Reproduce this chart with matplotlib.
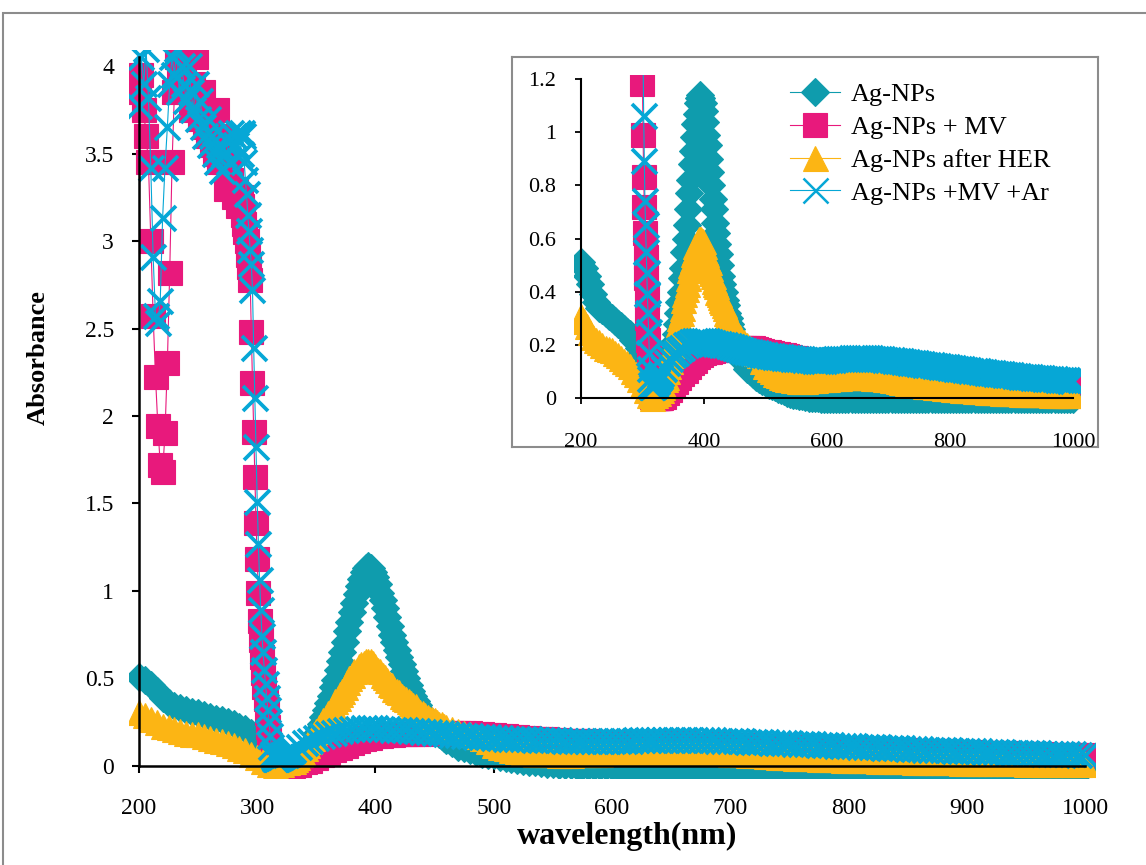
import numpy as np
import matplotlib.pyplot as plt
from matplotlib.ticker import FormatStrFormatter

plt.rcParams['font.family'] = 'Liberation Serif'

# wavelength grids (nm)
wl = np.concatenate([np.arange(200, 330, 5), np.arange(330, 460, 2), np.arange(460, 1001, 5)])
wl_mv = np.concatenate([np.arange(200, 286, 2), np.arange(286, 330), np.arange(330, 1001, 5)])

# Ag-NPs
ag_nps = [
    # 200-325, every 5 nm
    0.51, 0.49, 0.46, 0.43, 0.39, 0.36, 0.34, 0.33, 0.32, 0.31,
    0.30, 0.29, 0.28, 0.27, 0.26, 0.25, 0.24, 0.22, 0.21, 0.19,
    0.17, 0.13, 0.09, 0.06, 0.04, 0.03,
    # 330-458, every 2 nm
    0.02, 0.02, 0.03, 0.04, 0.05, 0.06, 0.08, 0.10, 0.12, 0.15,
    0.18, 0.21, 0.24, 0.28, 0.32, 0.36, 0.40, 0.45, 0.49, 0.55,
    0.60, 0.65, 0.71, 0.77, 0.82, 0.88, 0.93, 0.98, 1.03, 1.07,
    1.11, 1.13, 1.14, 1.13, 1.11, 1.08, 1.04, 0.99, 0.95, 0.90,
    0.85, 0.80, 0.75, 0.71, 0.66, 0.62, 0.58, 0.54, 0.50, 0.46,
    0.43, 0.40, 0.37, 0.35, 0.32, 0.30, 0.28, 0.26, 0.24, 0.22,
    0.21, 0.20, 0.18, 0.17, 0.16,
    # 460-1000, every 5 nm
    0.15, 0.13, 0.11, 0.10, 0.09, 0.08, 0.07, 0.065,
    0.06, 0.05, 0.045, 0.04, 0.035, 0.03, 0.025, 0.02, 0.015, 0.012,
    0.01, 0.008, 0.006, 0.004, 0.002, 0.0, 0.0, -0.001, -0.002, -0.002,
    -0.002, -0.003, -0.003, -0.003, -0.003, -0.003, -0.003, -0.003, -0.003, -0.003,
    -0.003, -0.003, -0.003, -0.003, -0.003, -0.003, -0.003, -0.003, -0.003, -0.003,
    -0.003, -0.003, -0.003, -0.003, -0.003, -0.003, -0.003, -0.003, -0.003, -0.003,
    -0.003, -0.003, -0.003, -0.003, -0.003, -0.003, -0.003, -0.003, -0.003, -0.003,
    -0.003, -0.003, -0.003, -0.003, -0.003, -0.003, -0.003, -0.003, -0.003, -0.003,
    -0.003, -0.003, -0.003, -0.003, -0.003, -0.003, -0.003, -0.003, -0.003, -0.003,
    -0.003, -0.003, -0.003, -0.003, -0.003, -0.003, -0.003, -0.003, -0.003, -0.003,
    -0.003, -0.003, -0.003, -0.003, -0.003, -0.003, -0.003, -0.003, -0.003, -0.003,
    -0.003,
]

# Ag-NPs after HER
ag_her = [
    # 200-325, every 5 nm
    0.31, 0.29, 0.27, 0.25, 0.23, 0.22, 0.21, 0.20, 0.19, 0.185,
    0.18, 0.17, 0.16, 0.15, 0.14, 0.13, 0.12, 0.10, 0.09, 0.07,
    0.05, 0.03, 0.01, 0.0, 0.01, 0.02,
    # 330-458, every 2 nm
    0.03, 0.04, 0.05, 0.07, 0.08, 0.10, 0.12, 0.14, 0.16, 0.18,
    0.20, 0.22, 0.24, 0.26, 0.28, 0.30, 0.32, 0.34, 0.37, 0.39,
    0.41, 0.43, 0.45, 0.48, 0.50, 0.52, 0.54, 0.55, 0.57, 0.58,
    0.59, 0.60, 0.60, 0.60, 0.59, 0.57, 0.55, 0.54, 0.52, 0.51,
    0.49, 0.47, 0.46, 0.44, 0.43, 0.42, 0.40, 0.39, 0.38, 0.37,
    0.36, 0.35, 0.34, 0.32, 0.31, 0.30, 0.29, 0.28, 0.27, 0.27,
    0.26, 0.25, 0.24, 0.24, 0.23,
    # 460-1000, every 5 nm
    0.22, 0.21, 0.20, 0.19, 0.18, 0.17, 0.16, 0.14,
    0.12, 0.11, 0.10, 0.09, 0.085, 0.08, 0.075, 0.07, 0.07, 0.068,
    0.066, 0.065, 0.065, 0.065, 0.066, 0.067, 0.068, 0.07, 0.07, 0.072,
    0.073, 0.074, 0.075, 0.076, 0.077, 0.078, 0.078, 0.079, 0.079, 0.08,
    0.08, 0.08, 0.079, 0.079, 0.078, 0.077, 0.076, 0.075, 0.074, 0.072,
    0.07, 0.068, 0.066, 0.064, 0.062, 0.06, 0.058, 0.056, 0.054, 0.052,
    0.05, 0.048, 0.046, 0.045, 0.044, 0.042, 0.041, 0.04, 0.038, 0.037,
    0.036, 0.035, 0.034, 0.033, 0.032, 0.031, 0.03, 0.029, 0.028, 0.027,
    0.026, 0.025, 0.024, 0.023, 0.022, 0.021, 0.021, 0.02, 0.02, 0.019,
    0.019, 0.018, 0.018, 0.017, 0.017, 0.016, 0.016, 0.015, 0.015, 0.015,
    0.014, 0.014, 0.014, 0.013, 0.013, 0.013, 0.012, 0.012, 0.012, 0.012,
    0.012,
]

# Ag-NPs + MV
ag_mv = [
    # 200-284, every 2 nm
    3.85, 3.95, 3.75, 3.6, 3.45, 3.0, 2.57, 2.22, 1.94, 1.72,
    1.68, 1.9, 2.3, 2.82, 3.45, 3.85, 4.05, 3.95, 4.1, 3.9,
    4.05, 3.85, 3.75, 3.9, 4.05, 3.8, 3.7, 3.85, 3.65, 3.6,
    3.7, 3.55, 3.5, 3.75, 3.45, 3.6, 3.45, 3.3, 3.4, 3.35,
    3.25, 3.3, 3.2,
    # 286-329, every 1 nm
    3.25, 3.2, 3.15, 3.1, 3.05, 3.0, 2.92, 2.85, 2.78, 2.48,
    2.19, 1.91, 1.65, 1.39, 1.18, 0.99, 0.83, 0.72, 0.62, 0.53,
    0.45, 0.38, 0.30, 0.22, 0.15, 0.08, 0.05, 0.03, 0.02, 0.01,
    0.005, 0.0, 0.0, 0.0, 0.0, 0.0, 0.0, 0.0, 0.0, 0.0,
    0.0, 0.0, 0.0, 0.0,
    # 330-1000, every 5 nm
    0.0, 0.005, 0.02, 0.03, 0.045, 0.06, 0.075, 0.09, 0.1, 0.115,
    0.13, 0.14, 0.155, 0.162, 0.17, 0.172, 0.175, 0.177, 0.18, 0.18,
    0.182, 0.183, 0.185, 0.186, 0.187, 0.188, 0.189, 0.19, 0.19, 0.19,
    0.188, 0.185, 0.182, 0.178, 0.175, 0.172, 0.17, 0.167, 0.165, 0.162,
    0.16, 0.157, 0.155, 0.152, 0.15, 0.148, 0.145, 0.143, 0.142, 0.14,
    0.14, 0.139, 0.138, 0.137, 0.136, 0.135, 0.134, 0.133, 0.132, 0.131,
    0.13, 0.13, 0.13, 0.13, 0.13, 0.129, 0.129, 0.128, 0.128, 0.127,
    0.126, 0.125, 0.124, 0.123, 0.122, 0.121, 0.12, 0.119, 0.118, 0.117,
    0.116, 0.114, 0.113, 0.112, 0.11, 0.109, 0.108, 0.106, 0.105, 0.104,
    0.103, 0.102, 0.101, 0.1, 0.099, 0.098, 0.097, 0.096, 0.095, 0.094,
    0.093, 0.092, 0.091, 0.09, 0.089, 0.088, 0.087, 0.086, 0.085, 0.084,
    0.083, 0.082, 0.081, 0.08, 0.079, 0.078, 0.077, 0.076, 0.075, 0.074,
    0.073, 0.072, 0.071, 0.07, 0.069, 0.068, 0.067, 0.066, 0.065, 0.064,
    0.063, 0.062, 0.061, 0.06, 0.06,
]

# Ag-NPs +MV +Ar
ag_mv_ar = [
    # 200-284, every 2 nm
    3.77, 4.05, 3.9, 4.1, 3.82, 3.42, 2.91, 2.57, 2.53, 2.66,
    3.13, 3.42, 3.65, 3.9, 4.05, 3.95, 4.1, 3.85, 4.0, 3.9,
    3.8, 4.0, 3.85, 3.75, 3.9, 3.7, 3.8, 3.65, 3.6, 3.7,
    3.55, 3.6, 3.5, 3.45, 3.55, 3.4, 3.5, 3.58, 3.45, 3.62,
    3.6, 3.55, 3.62,
    # 286-329, every 1 nm
    3.5, 3.62, 3.6, 3.45, 3.35, 3.27, 3.15, 3.06, 2.95, 2.87,
    2.72, 2.39, 2.1, 1.82, 1.51, 1.27, 1.06, 0.89, 0.74, 0.65,
    0.55, 0.47, 0.39, 0.32, 0.25, 0.17, 0.11, 0.07, 0.05, 0.04,
    0.04, 0.04, 0.045, 0.05, 0.05, 0.055, 0.06, 0.06, 0.065, 0.07,
    0.07, 0.075, 0.08, 0.085,
    # 330-1000, every 5 nm
    0.09, 0.11, 0.13, 0.145, 0.16, 0.17, 0.18, 0.19, 0.2, 0.205,
    0.21, 0.213, 0.215, 0.215, 0.215, 0.213, 0.21, 0.208, 0.205, 0.203,
    0.2, 0.198, 0.195, 0.192, 0.19, 0.186, 0.182, 0.178, 0.175, 0.172,
    0.17, 0.168, 0.166, 0.163, 0.16, 0.158, 0.157, 0.156, 0.155, 0.153,
    0.152, 0.151, 0.15, 0.148, 0.147, 0.146, 0.145, 0.144, 0.143, 0.142,
    0.141, 0.141, 0.141, 0.141, 0.142, 0.143, 0.144, 0.145, 0.146, 0.147,
    0.148, 0.148, 0.149, 0.149, 0.15, 0.15, 0.15, 0.149, 0.149, 0.148,
    0.147, 0.146, 0.145, 0.144, 0.143, 0.142, 0.14, 0.139, 0.138, 0.136,
    0.135, 0.133, 0.132, 0.13, 0.129, 0.127, 0.126, 0.124, 0.123, 0.121,
    0.12, 0.118, 0.117, 0.115, 0.114, 0.112, 0.111, 0.109, 0.108, 0.106,
    0.105, 0.103, 0.102, 0.1, 0.099, 0.097, 0.096, 0.094, 0.093, 0.091,
    0.09, 0.089, 0.088, 0.086, 0.085, 0.084, 0.083, 0.081, 0.08, 0.079,
    0.078, 0.077, 0.076, 0.075, 0.074, 0.073, 0.072, 0.071, 0.07, 0.069,
    0.068, 0.067, 0.066, 0.065, 0.065,
]

labels = ['Ag-NPs', 'Ag-NPs + MV', 'Ag-NPs after HER', 'Ag-NPs +MV +Ar']
colors = ['#0f9cad', '#e8197c', '#fcb514', '#06a7d6']
markers = ['D', 's', '^', 'x']
msizes = [14, 17, 18, 18]
xs = [wl, wl_mv, wl, wl_mv]
ys = [ag_nps, ag_mv, ag_her, ag_mv_ar]


def draw_series(ax):
    for x, y, lab, col, mk, ms in zip(xs, ys, labels, colors, markers, msizes):
        mew = 2.7 if mk == 'x' else 0.8
        ax.plot(x, y, color=col, lw=0.8, marker=mk, ms=ms, mfc=col, mec=col,
                mew=mew, label=lab)


fig = plt.figure(figsize=(11.46, 8.65), dpi=100)

# outer grey frame of the chart area
fig.patches.append(plt.Rectangle((3 / 1146, -0.05), 1.1, 1 - 13 / 865 + 0.05,
                                 transform=fig.transFigure, fill=False,
                                 ec='#8c8c8c', lw=1.5))

# main chart
ax = fig.add_axes([0.1130, 0.1003, 0.8421, 0.8416], zorder=1)
ax.patch.set_alpha(0)
draw_series(ax)
ax.set_xlim(192, 1008)
ax.set_ylim(-0.07, 4.09)
for s in ['top', 'right']:
    ax.spines[s].set_visible(False)
ax.spines['left'].set_position(('data', 200))
ax.spines['left'].set_bounds(0, 4.05)
ax.spines['bottom'].set_position(('data', 0))
ax.spines['bottom'].set_bounds(200, 1000)
for s in ['left', 'bottom']:
    ax.spines[s].set_linewidth(1.8)
ax.set_xticks(np.arange(200, 1001, 100))
ax.set_yticks(np.arange(0, 4.01, 0.5))
ax.yaxis.set_major_formatter(FormatStrFormatter('%g'))
ax.tick_params(axis='x', direction='out', length=5, width=1.5, pad=18, labelsize=17)
ax.tick_params(axis='y', direction='out', length=5, width=1.5, pad=13, labelsize=17)

fig.text(627 / 1146, 1 - 836 / 865, 'wavelength(nm)', ha='center', va='center',
         fontsize=23, fontweight='bold')
fig.text(38 / 1146, 1 - 358 / 865, 'Absorbance', ha='center', va='center',
         rotation=90, fontsize=19, fontweight='bold')

# inset frame
frame = fig.add_axes([512 / 1146, 1 - 447 / 865, 586 / 1146, 390 / 865], zorder=2)
frame.set_facecolor('white')
frame.set_xticks([])
frame.set_yticks([])
for s in frame.spines.values():
    s.set_edgecolor('#8c8c8c')
    s.set_linewidth(1.5)

# inset chart
axi = fig.add_axes([0.5005, 0.5214, 0.4422, 0.3919], zorder=3)
axi.patch.set_alpha(0)
draw_series(axi)
axi.set_xlim(188, 1012)
axi.set_ylim(-0.06, 1.215)
for s in ['top', 'right']:
    axi.spines[s].set_visible(False)
axi.spines['left'].set_position(('data', 200))
axi.spines['left'].set_bounds(0, 1.2)
axi.spines['bottom'].set_position(('data', 0))
axi.spines['bottom'].set_bounds(200, 1000)
for s in ['left', 'bottom']:
    axi.spines[s].set_linewidth(1.5)
axi.set_xticks(np.arange(200, 1001, 200))
axi.set_yticks(np.arange(0, 1.21, 0.2))
axi.yaxis.set_major_formatter(FormatStrFormatter('%g'))
axi.tick_params(axis='x', direction='out', length=4, width=1.3, pad=21, labelsize=16)
axi.tick_params(axis='y', direction='out', length=4, width=1.3, pad=14, labelsize=16)

leg = axi.legend(loc='upper left', bbox_to_anchor=(790 / 1146, 1 - 83 / 865),
                 bbox_transform=fig.transFigure, frameon=False, fontsize=19,
                 handlelength=1.9, handletextpad=0.42, labelspacing=0.35,
                 borderpad=0, borderaxespad=0, numpoints=1)
leg.legend_handles[3].set_markeredgewidth(1.8)

fig.savefig('out.png', dpi=100)
